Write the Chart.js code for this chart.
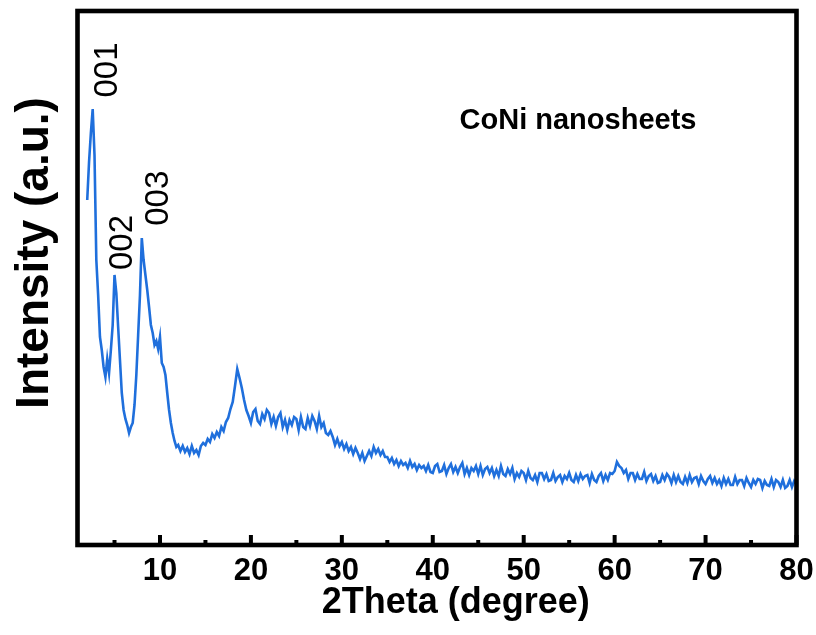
<!DOCTYPE html>
<html>
<head>
<meta charset="utf-8">
<title>CoNi nanosheets XRD</title>
<script src="https://cdn.jsdelivr.net/npm/chart.js@4/dist/chart.umd.min.js"></script>
<style>
  html, body { margin: 0; padding: 0; background: #fff; }
</style>
</head>
<body>
<canvas id="xrd" width="816" height="635"></canvas>
<script>
// scan segments: first 2θ, step, intensity (a.u.)
const lowStart = 2.0, lowStep = 0.2;
const lowAngle = [
  345, 383, 412, 436, 390, 285, 250, 208, 195, 178,
  168, 186, 172, 195, 220, 270, 252, 218, 185, 152,
  135, 126, 120, 112, 118, 122, 140, 170, 210, 250,
  307, 285, 270, 255, 238, 220, 212, 200, 204, 196,
  208, 182, 178, 170, 152, 135, 122, 112, 104, 98
];

const midStart = 12.0, midStep = 0.25;
const midAngle = [
  100, 94, 99, 93,    97, 91, 99, 92,     95, 90, 99, 102,    100, 106, 103, 111,
  107, 113, 109, 118, 114, 123, 127, 136, 143, 159, 176, 167, 157, 145, 135, 129,
  122, 133, 136, 124, 121, 131, 126, 135, 132, 121, 128, 119, 128, 132, 118, 125,
  115, 125, 120, 128, 126, 115, 128, 118, 116, 127, 119, 129, 124, 116, 129, 118,
  122, 112, 110, 114, 108, 100, 106, 99,  103, 96, 101, 94,   98, 91, 97, 92,
  86, 92, 84, 89,     94, 89, 98, 92,     96, 90, 94, 88,     88, 83, 87, 81,
  85, 79, 84, 80,     82, 77, 84, 78,     81, 75, 80, 77,     79, 74, 80, 73
];

const tailStart = 40.0, tailStep = 0.25;
const tailAngle = [
  72, 79, 81, 73,  74, 80, 71, 77,  81, 73, 78, 72,  78, 82, 71, 77,  70, 77, 74, 79,
  71, 79, 70, 76,  78, 72, 77, 69,  75, 69, 79, 71,  69, 76, 71, 77,  66, 72, 68, 74,
  72, 65, 74, 67,  65, 70, 63, 72,  72, 66, 71, 64,  65, 72, 64, 68,  70, 63, 69, 66,
  72, 65, 63, 70,  64, 71, 66, 69,  70, 62, 71, 65,  63, 69, 72, 64,  70, 65, 72, 71,
  74, 83, 79, 77,  72, 75, 66, 72,  72, 65, 71, 66,  66, 73, 64, 69,  71, 64, 69, 62,
  63, 70, 65, 71,  68, 62, 70, 63,  69, 63, 61, 68,  62, 70, 63, 67,  68, 61, 69, 64,
  61, 66, 69, 62,  67, 61, 65, 59,  67, 61, 66, 60,  60, 68, 61, 65,  65, 59, 67, 62,
  58, 65, 61, 66,  65, 57, 64, 60,  59, 66, 58, 65,  63, 58, 65, 57,  59, 65, 58, 64,
  61
];

const majorTicks = [10, 20, 30, 40, 50, 60, 70, 80];
const minorTicks = [5, 15, 25, 35, 45, 55, 65, 75];
const peakNames = ['001', '002', '003'];
const sampleName = 'CoNi nanosheets';
const xTitle = '2Theta (degree)';
const yTitle = 'Intensity (a.u.)';

function toPoints(start, step, values) {
  return values.map((v, i) => ({ x: +(start + i * step).toFixed(2), y: v }));
}

const points = [
  ...toPoints(lowStart, lowStep, lowAngle),
  ...toPoints(midStart, midStep, midAngle),
  ...toPoints(tailStart, tailStep, tailAngle)
];

const FONT = "'Liberation Sans', Arial, Helvetica, sans-serif";

// frame, inward ticks, peak labels and axis titles
const decor = {
  id: 'decor',
  afterDatasetsDraw(chart) {
    const { ctx, chartArea: a, scales: { x, y } } = chart;
    ctx.save();
    ctx.strokeStyle = '#000';
    ctx.fillStyle = '#000';

    ctx.lineWidth = 4;
    majorTicks.forEach(v => {
      const px = x.getPixelForValue(v);
      ctx.beginPath(); ctx.moveTo(px, a.bottom); ctx.lineTo(px, a.bottom - 10); ctx.stroke();
    });
    minorTicks.forEach(v => {
      const px = x.getPixelForValue(v);
      ctx.beginPath(); ctx.moveTo(px, a.bottom); ctx.lineTo(px, a.bottom - 5); ctx.stroke();
    });

    ctx.lineWidth = 4.6;
    ctx.strokeRect(a.left, a.top, a.right - a.left, a.bottom - a.top);

    // peak indices, rotated
    const spots = [[5.24, 475], [6.89, 302.5], [10.91, 346.7]];
    ctx.font = '33px ' + FONT;
    ctx.textAlign = 'center';
    ctx.textBaseline = 'alphabetic';
    peakNames.forEach((name, i) => {
      ctx.save();
      ctx.translate(x.getPixelForValue(spots[i][0]), y.getPixelForValue(spots[i][1]));
      ctx.rotate(-Math.PI / 2);
      ctx.fillText(name, 0, 0);
      ctx.restore();
    });

    ctx.font = 'bold 29px ' + FONT;
    ctx.fillText(sampleName, x.getPixelForValue(55.97), y.getPixelForValue(415.7));

    ctx.font = 'bold 36px ' + FONT;
    ctx.fillText(xTitle, 455.8, a.bottom + 67.7);

    ctx.save();
    ctx.translate(a.left - 29.5, a.top + 242);
    ctx.rotate(-Math.PI / 2);
    ctx.font = 'bold 46px ' + FONT;
    ctx.fillText(yTitle, 0, 0);
    ctx.restore();

    ctx.restore();
  }
};

new Chart(document.getElementById('xrd'), {
  type: 'line',
  data: {
    datasets: [{
      data: points,
      borderColor: '#1f6fdc',
      borderWidth: 2.6,
      pointRadius: 0,
      tension: 0,
      fill: false
    }]
  },
  options: {
    responsive: false,
    animation: false,
    devicePixelRatio: 1,
    layout: { padding: { left: 77.5, right: 19.5, top: 11, bottom: 0 } },
    plugins: { legend: { display: false }, tooltip: { enabled: false } },
    scales: {
      x: {
        type: 'linear',
        min: 0.93,
        max: 80,
        afterBuildTicks: s => { s.ticks = majorTicks.map(v => ({ value: v })); },
        afterFit: s => { s.height = 90; s.paddingLeft = 0; s.paddingRight = 0; },
        grid: { display: false, drawTicks: false },
        border: { display: false },
        ticks: {
          color: '#000',
          padding: 8,
          maxRotation: 0,
          autoSkip: false,
          font: { family: FONT, size: 31, weight: 'bold' }
        }
      },
      y: {
        display: false,
        min: 0,
        max: 534
      }
    }
  },
  plugins: [decor]
});
</script>
</body>
</html>
